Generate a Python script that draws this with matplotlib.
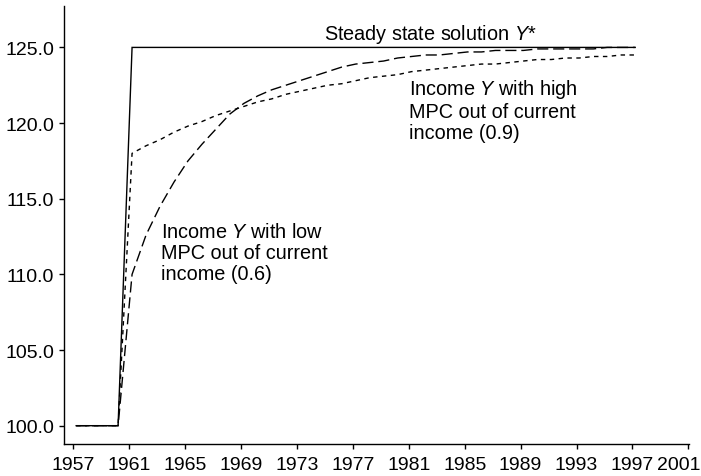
import numpy as np
import matplotlib
matplotlib.use('Agg')
import matplotlib.pyplot as plt
from matplotlib.transforms import offset_copy

plt.rcParams['font.family'] = ['Liberation Sans', 'DejaVu Sans']
plt.rcParams['mathtext.fontset'] = 'custom'
plt.rcParams['mathtext.rm'] = 'Liberation Sans'
plt.rcParams['mathtext.it'] = 'Liberation Sans:italic'

# annual data, 1957-1997
years = np.arange(1957, 1998)

steady = [100.0, 100.0, 100.0, 100.0] + [125.0] * 37

high_mpc = [100.0, 100.0, 100.0, 100.0,
            118.0, 118.5, 118.9, 119.4, 119.8, 120.1, 120.5, 120.8, 121.1, 121.4,
            121.6, 121.9, 122.1, 122.3, 122.5, 122.6, 122.8, 123.0, 123.1, 123.2,
            123.4, 123.5, 123.6, 123.7, 123.8, 123.9, 123.9, 124.0, 124.1, 124.2,
            124.2, 124.3, 124.3, 124.4, 124.4, 124.5, 124.5]

low_mpc = [100.0, 100.0, 100.0, 100.0,
           110.0, 112.6, 114.5, 116.1, 117.5, 118.6, 119.6, 120.6, 121.3, 121.8,
           122.2, 122.5, 122.8, 123.1, 123.4, 123.7, 123.9, 124.0, 124.1, 124.3,
           124.4, 124.5, 124.5, 124.6, 124.7, 124.7, 124.8, 124.8, 124.8, 124.9,
           124.9, 124.9, 124.9, 124.9, 125.0, 125.0, 125.0]

xticks = np.arange(1957, 2002, 4)
yticks = [100, 105, 110, 115, 120, 125]

fig = plt.figure(figsize=(7.01, 4.77), dpi=100)
ax = fig.add_axes([0.0913, 0.0671, 0.8916, 0.918])

x = years + 0.2
ax.plot(x, steady, color='black', lw=1.0, solid_joinstyle='miter')
ax.plot(x, low_mpc, color='black', lw=1.0, dashes=(8, 3.5))
ax.plot(x, high_mpc, color='black', lw=1.0, dashes=(3.2, 3.2))

ax.set_xlim(1956.33, 2001.05)
ax.set_ylim(98.79, 127.73)
ax.set_xticks(xticks)
ax.set_yticks(yticks)
ax.set_yticklabels([f'{v:.1f}' for v in yticks])

for s in ['top', 'right']:
    ax.spines[s].set_visible(False)
for s in ['left', 'bottom']:
    ax.spines[s].set_linewidth(1.0)
ax.tick_params(labelsize=14, length=3.5, width=1.0)
ax.tick_params(axis='y', pad=3.5)
ax.tick_params(axis='x', pad=5)

# last x label sits against the right edge in the original
fig.canvas.draw()
last = ax.get_xticklabels()[-1]
last.set_transform(offset_copy(last.get_transform(), fig=fig, x=-10, y=0, units='dots'))

ax.text(1974.9, 125.95, 'Steady state solution $Y$*', fontsize=14.3, va='center', ha='left')
ax.text(1981.0, 123.05, 'Income $Y$ with high\nMPC out of current\nincome (0.9)',
        fontsize=14.3, va='top', ha='left', linespacing=1.13)
ax.text(1963.3, 113.44, 'Income $Y$ with low\nMPC out of current\nincome (0.6)',
        fontsize=14.3, va='top', ha='left', linespacing=1.13)

fig.savefig('out.png', dpi=100)
